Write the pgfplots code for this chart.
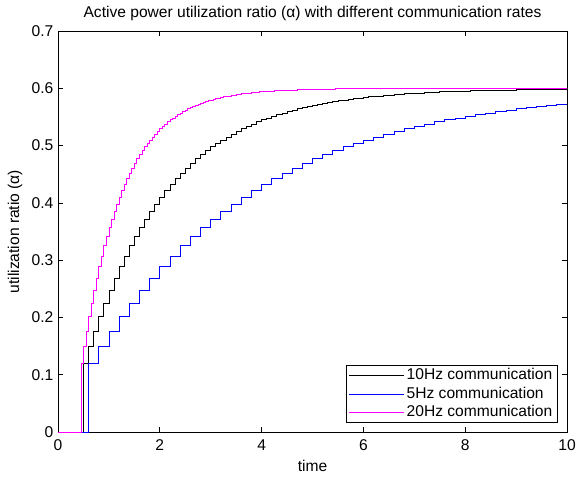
\documentclass[border=0pt]{standalone}
\usepackage{pgfplots}
\pgfplotsset{compat=1.18}
\usepackage{fontspec}
\setmainfont{Liberation Sans}
\definecolor{mag}{rgb}{1,0,1}
\definecolor{pureblue}{rgb}{0,0,1}
\begin{document}
\begin{tikzpicture}
\begin{axis}[
  scale only axis,
  width=381.75pt, height=300.75pt,
  xmin=0, xmax=10, ymin=0, ymax=0.7,
  xtick={0,2,4,6,8,10},
  ytick={0,0.1,0.2,0.3,0.4,0.5,0.6,0.7},
  yticklabels={0,0.1,0.2,0.3,0.4,0.5,0.6,0.7},
  /pgf/number format/assume math mode=true,
  tick align=inside,
  major tick length=4pt,
  tick style={black, line width=0.5pt},
  axis line style={line width=0.6pt},
  every tick label/.append style={font=\fontsize{11.7}{14}\selectfont},
  xticklabel style={yshift=-2pt},
  title={Active power utilization ratio (α) with different communication rates},
  title style={at={(axis description cs:0.5,1.025)}, anchor=center, yshift=0pt, font=\fontsize{11.7}{14}\selectfont},
  xlabel={time},
  xlabel style={at={(axis description cs:0.5,-0.0848)}, anchor=center, font=\fontsize{11.7}{14}\selectfont},
  ylabel={utilization ratio (α)},
  ylabel style={at={(axis description cs:-0.0845,0.5)}, anchor=center, font=\fontsize{11.7}{14}\selectfont},
  legend cell align=left,
  legend style={at={(axis description cs:1,0)}, anchor=south east, xshift=-6.75pt, yshift=6.75pt,
    draw=black, line width=0.5pt, font=\fontsize{11.7}{14}\selectfont, inner xsep=2pt, inner ysep=1.5pt,
    nodes={inner ysep=0.5pt, text height=8.8pt, text depth=2.6pt}, row sep=1.4pt},
  legend image code/.code={\path (-6pt,0pt) -- (0pt,0pt); \draw[#1] (0pt,0pt) -- (35pt,0pt);},
]
\addplot[const plot, black, line width=0.6pt] coordinates {
(0,0) (0.5,0.12) (0.6,0.1488) (0.7,0.1759) (0.8,0.2013) (0.9,0.2252) (1.0,0.2477) (1.1,0.2689) (1.2,0.2887) (1.3,0.3074) (1.4,0.3250)
(1.5,0.3415) (1.6,0.3570) (1.7,0.3716) (1.8,0.3853) (1.9,0.3981) (2.0,0.4103) (2.1,0.4216) (2.2,0.4323) (2.3,0.4424) (2.4,0.4519)
(2.5,0.4607) (2.6,0.4691) (2.7,0.4770) (2.8,0.4843) (2.9,0.4913) (3.0,0.4978) (3.1,0.5039) (3.2,0.5097) (3.3,0.5151) (3.4,0.5202)
(3.5,0.5250) (3.6,0.5295) (3.7,0.5337) (3.8,0.5377) (3.9,0.5414) (4.0,0.5450) (4.1,0.5483) (4.2,0.5514) (4.3,0.5543) (4.4,0.5570)
(4.5,0.5596) (4.6,0.5620) (4.7,0.5643) (4.8,0.5664) (4.9,0.5685) (5.0,0.5704) (5.1,0.5721) (5.2,0.5738) (5.3,0.5754) (5.4,0.5769)
(5.5,0.5782) (5.6,0.5795) (5.7,0.5808) (5.8,0.5819) (5.9,0.5830) (6.0,0.5840) (6.1,0.5850) (6.2,0.5859) (6.3,0.5867) (6.4,0.5875)
(6.5,0.5883) (6.6,0.5890) (6.7,0.5896) (6.8,0.5903) (6.9,0.5908) (7.0,0.5914) (7.1,0.5919) (7.2,0.5924) (7.3,0.5929) (7.4,0.5933)
(7.5,0.5937) (7.6,0.5941) (7.7,0.5944) (7.8,0.5948) (7.9,0.5951) (8.0,0.5954) (8.1,0.5956) (8.2,0.5959) (8.3,0.5962) (8.4,0.5964)
(8.5,0.5966) (9.0,0.5975) (9.5,0.5982) (10,0.5987)
};
\addlegendentry{10Hz communication}
\addplot[const plot, pureblue, line width=0.6pt] coordinates {
(0,0) (0.6,0.12) (0.8,0.1488) (1.0,0.1759) (1.2,0.2013) (1.4,0.2252) (1.6,0.2477) (1.8,0.2689) (2.0,0.2887) (2.2,0.3074) (2.4,0.3250)
(2.6,0.3415) (2.8,0.3570) (3.0,0.3716) (3.2,0.3853) (3.4,0.3981) (3.6,0.4103) (3.8,0.4216) (4.0,0.4323) (4.2,0.4424) (4.4,0.4519)
(4.6,0.4607) (4.8,0.4691) (5.0,0.4770) (5.2,0.4843) (5.4,0.4913) (5.6,0.4978) (5.8,0.5039) (6.0,0.5097) (6.2,0.5151) (6.4,0.5202)
(6.6,0.5250) (6.8,0.5295) (7.0,0.5337) (7.2,0.5377) (7.4,0.5414) (7.6,0.5450) (7.8,0.5483) (8.0,0.5514) (8.2,0.5543) (8.4,0.5570)
(8.6,0.5596) (8.8,0.5620) (9.0,0.5643) (9.2,0.5664) (9.4,0.5685) (9.6,0.5704) (9.8,0.5721) (10,0.5721)
};
\addlegendentry{5Hz communication}
\addplot[const plot, mag, line width=0.6pt] coordinates {
(0,0) (0.45,0.12) (0.50,0.1488) (0.55,0.1759) (0.60,0.2013) (0.65,0.2252) (0.70,0.2477) (0.75,0.2689) (0.80,0.2887) (0.85,0.3074)
(0.90,0.3250) (0.95,0.3415) (1.00,0.3570) (1.05,0.3716) (1.10,0.3853) (1.15,0.3981) (1.20,0.4103) (1.25,0.4216) (1.30,0.4323)
(1.35,0.4424) (1.40,0.4519) (1.45,0.4607) (1.50,0.4691) (1.55,0.4770) (1.60,0.4843) (1.65,0.4913) (1.70,0.4978) (1.75,0.5039)
(1.80,0.5097) (1.85,0.5151) (1.90,0.5202) (1.95,0.5250) (2.00,0.5295) (2.05,0.5337) (2.10,0.5377) (2.15,0.5414) (2.20,0.5450)
(2.25,0.5483) (2.30,0.5514) (2.35,0.5543) (2.40,0.5570) (2.45,0.5596) (2.50,0.5620) (2.55,0.5643) (2.60,0.5664) (2.65,0.5685)
(2.70,0.5704) (2.75,0.5721) (2.80,0.5738) (2.85,0.5754) (2.90,0.5769) (2.95,0.5782) (3.00,0.5795) (3.05,0.5808) (3.10,0.5819)
(3.15,0.5830) (3.20,0.5840) (3.25,0.5850) (3.30,0.5859) (3.35,0.5867) (3.40,0.5875) (3.45,0.5883) (3.50,0.5890) (3.55,0.5896)
(3.60,0.5903) (3.65,0.5908) (3.70,0.5914) (3.75,0.5919) (3.80,0.5924) (3.85,0.5929) (3.90,0.5933) (3.95,0.5937) (4.00,0.5941)
(4.05,0.5944) (4.10,0.5948) (4.15,0.5951) (4.20,0.5954) (4.25,0.5956) (4.30,0.5959) (4.35,0.5962) (4.40,0.5964) (4.45,0.5966)
(4.70,0.5975) (4.95,0.5982) (5.20,0.5987) (5.45,0.5990) (5.95,0.5995) (6.45,0.5997) (7.45,0.5999) (10,0.6)
};
\addlegendentry{20Hz communication}
\end{axis}
\pgfresetboundingbox
\path ([shift={(-43.5pt,-33pt)}]current axis.south west) rectangle ([shift={(9.75pt,23.25pt)}]current axis.north east);
\end{tikzpicture}
\end{document}
